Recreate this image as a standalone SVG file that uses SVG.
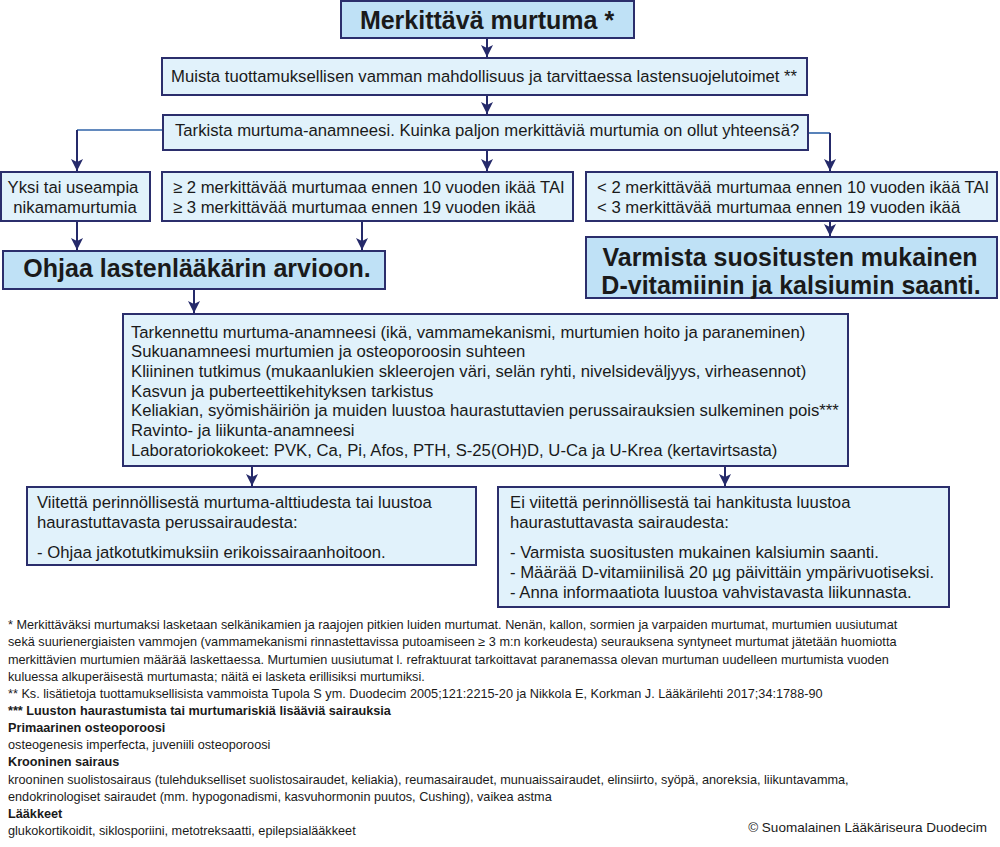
<svg xmlns="http://www.w3.org/2000/svg" width="1000" height="847" viewBox="0 0 1000 847">
<defs>
<marker id="ah" markerUnits="userSpaceOnUse" markerWidth="12" markerHeight="12" viewBox="0 0 12 12" refX="12" refY="6" orient="auto">
<path d="M0,0 L12,6 L0,12 L3,6 z" fill="#252a6a"/>
</marker>
<style>
.box{fill:#e1f2fb;stroke:#2b2e6c;stroke-width:2}
.hbox{fill:#bfe1f6;stroke:#2b2e6c;stroke-width:2}
.t{font-family:"Liberation Sans",Arial,sans-serif;font-size:16.7px;fill:#1a1a1a}
.big{font-family:"Liberation Sans",Arial,sans-serif;font-size:25px;font-weight:bold;fill:#1a1a1a}
.fn{font-family:"Liberation Sans",Arial,sans-serif;font-size:12.7px;fill:#1a1a1a}
.b{font-weight:bold}
.c{stroke:#252a6a;stroke-width:2;fill:none}
.cb{stroke:#2f63a8;stroke-width:1.6;fill:none}
</style>
</defs>
<rect width="1000" height="847" fill="#ffffff"/>

<g id="connectors">
<path class="c" d="M487,38 V57" marker-end="url(#ah)"/>
<path class="c" d="M487,95 V114" marker-end="url(#ah)"/>
<path class="cb" d="M163,130 H77"/>
<path class="c" d="M77,130 V171" marker-end="url(#ah)"/>
<path class="c" d="M487,150 V171" marker-end="url(#ah)"/>
<path class="cb" d="M808,133 H830"/>
<path class="c" d="M830,133 V171" marker-end="url(#ah)"/>
<path class="c" d="M77,221 V250" marker-end="url(#ah)"/>
<path class="c" d="M362,221 V250" marker-end="url(#ah)"/>
<path class="c" d="M830,221 V236" marker-end="url(#ah)"/>
<path class="c" d="M194,289 V313" marker-end="url(#ah)"/>
<path class="c" d="M252,466 V486" marker-end="url(#ah)"/>
<path class="c" d="M725,466 V486" marker-end="url(#ah)"/>
</g>

<g id="n-title">
<rect class="hbox" x="341" y="1" width="293" height="37"/>
<text class="big" x="487" y="29" text-anchor="middle">Merkittävä murtuma *</text>
</g>

<g id="n-muista">
<rect class="box" x="162" y="58" width="645" height="37"/>
<text class="t" x="171" y="82">Muista tuottamuksellisen vamman mahdollisuus ja tarvittaessa lastensuojelutoimet **</text>
</g>

<g id="n-tarkista">
<rect class="box" x="163" y="115" width="645" height="35"/>
<text class="t" x="175" y="136">Tarkista murtuma-anamneesi. Kuinka paljon merkittäviä murtumia on ollut yhteensä?</text>
</g>

<g id="n-nikama">
<rect class="box" x="1" y="172" width="149" height="49"/>
<text class="t" x="73" y="192.5" text-anchor="middle">Yksi tai useampia</text>
<text class="t" x="75" y="212.5" text-anchor="middle">nikamamurtumia</text>
</g>

<g id="n-many">
<rect class="box" x="162" y="172" width="411" height="49"/>
<text class="t" x="173" y="192.5">≥ 2 merkittävää murtumaa ennen 10 vuoden ikää TAI</text>
<text class="t" x="173" y="212.5">≥ 3 merkittävää murtumaa ennen 19 vuoden ikää</text>
</g>

<g id="n-few">
<rect class="box" x="586" y="172" width="411" height="49"/>
<text class="t" x="597" y="192.5">&lt; 2 merkittävää murtumaa ennen 10 vuoden ikää TAI</text>
<text class="t" x="597" y="212.5">&lt; 3 merkittävää murtumaa ennen 19 vuoden ikää</text>
</g>

<g id="n-ohjaa">
<rect class="hbox" x="3" y="251" width="382" height="38"/>
<text class="big" x="197" y="277" text-anchor="middle">Ohjaa lastenlääkärin arvioon.</text>
</g>

<g id="n-varmista">
<rect class="hbox" x="586" y="237" width="411" height="61"/>
<text class="big" x="790" y="266" text-anchor="middle">Varmista suositusten mukainen</text>
<text class="big" x="791" y="294" text-anchor="middle">D-vitamiinin ja kalsiumin saanti.</text>
</g>

<g id="n-tarkennettu">
<rect class="box" x="123" y="314" width="725" height="152"/>
<text class="t" x="131" y="337.5">Tarkennettu murtuma-anamneesi (ikä, vammamekanismi, murtumien hoito ja paraneminen)</text>
<text class="t" x="131" y="357">Sukuanamneesi murtumien ja osteoporoosin suhteen</text>
<text class="t" x="131" y="376.5">Kliininen tutkimus (mukaanlukien skleerojen väri, selän ryhti, nivelsideväljyys, virheasennot)</text>
<text class="t" x="131" y="396.5">Kasvun ja puberteettikehityksen tarkistus</text>
<text class="t" x="131" y="416">Keliakian, syömishäiriön ja muiden luustoa haurastuttavien perussairauksien sulkeminen pois***</text>
<text class="t" x="131" y="435.5">Ravinto- ja liikunta-anamneesi</text>
<text class="t" x="131" y="455.5">Laboratoriokokeet: PVK, Ca, Pi, Afos, PTH, S-25(OH)D, U-Ca ja U-Krea (kertavirtsasta)</text>
</g>

<g id="n-viitetta">
<rect class="box" x="27" y="487" width="449" height="78"/>
<text class="t" x="37" y="507.5">Viitettä perinnöllisestä murtuma-alttiudesta tai luustoa</text>
<text class="t" x="37" y="527.5">haurastuttavasta perussairaudesta:</text>
<text class="t" x="37" y="557.5">- Ohjaa jatkotutkimuksiin erikoissairaanhoitoon.</text>
</g>

<g id="n-ei-viitetta">
<rect class="box" x="498" y="487" width="451" height="120"/>
<text class="t" x="510" y="507.5">Ei viitettä perinnöllisestä tai hankitusta luustoa</text>
<text class="t" x="510" y="527.5">haurastuttavasta sairaudesta:</text>
<text class="t" x="510" y="557.5">- Varmista suositusten mukainen kalsiumin saanti.</text>
<text class="t" x="510" y="577.5">- Määrää D-vitamiinilisä 20 µg päivittäin ympärivuotiseksi.</text>
<text class="t" x="510" y="597.5">- Anna informaatiota luustoa vahvistavasta liikunnasta.</text>
</g>

<g id="footnotes">
<text class="fn" x="8" y="629">* Merkittäväksi murtumaksi lasketaan selkänikamien ja raajojen pitkien luiden murtumat. Nenän, kallon, sormien ja varpaiden murtumat, murtumien uusiutumat</text>
<text class="fn" x="8" y="646">sekä suurienergiaisten vammojen (vammamekanismi rinnastettavissa putoamiseen ≥ 3 m:n korkeudesta) seurauksena syntyneet murtumat jätetään huomiotta</text>
<text class="fn" x="8" y="663.5">merkittävien murtumien määrää laskettaessa. Murtumien uusiutumat l. refraktuurat tarkoittavat paranemassa olevan murtuman uudelleen murtumista vuoden</text>
<text class="fn" x="8" y="680.5">kuluessa alkuperäisestä murtumasta; näitä ei lasketa erillisiksi murtumiksi.</text>
<text class="fn" x="8" y="697.5">** Ks. lisätietoja tuottamuksellisista vammoista Tupola S ym. Duodecim 2005;121:2215-20 ja Nikkola E, Korkman J. Lääkärilehti 2017;34:1788-90</text>
<text class="fn b" x="8" y="714.5">*** Luuston haurastumista tai murtumariskiä lisääviä sairauksia</text>
<text class="fn b" x="8" y="732">Primaarinen osteoporoosi</text>
<text class="fn" x="8" y="749">osteogenesis imperfecta, juveniili osteoporoosi</text>
<text class="fn b" x="8" y="766">Krooninen sairaus</text>
<text class="fn" x="8" y="783.5">krooninen suolistosairaus (tulehdukselliset suolistosairaudet, keliakia), reumasairaudet, munuaissairaudet, elinsiirto, syöpä, anoreksia, liikuntavamma,</text>
<text class="fn" x="8" y="800.5">endokrinologiset sairaudet (mm. hypogonadismi, kasvuhormonin puutos, Cushing), vaikea astma</text>
<text class="fn b" x="8" y="817.5">Lääkkeet</text>
<text class="fn" x="8" y="834.5">glukokortikoidit, siklosporiini, metotreksaatti, epilepsialääkkeet</text>
<text class="fn" x="987" y="832" text-anchor="end" style="font-size:13.5px">© Suomalainen Lääkäriseura Duodecim</text>
</g>
</svg>
